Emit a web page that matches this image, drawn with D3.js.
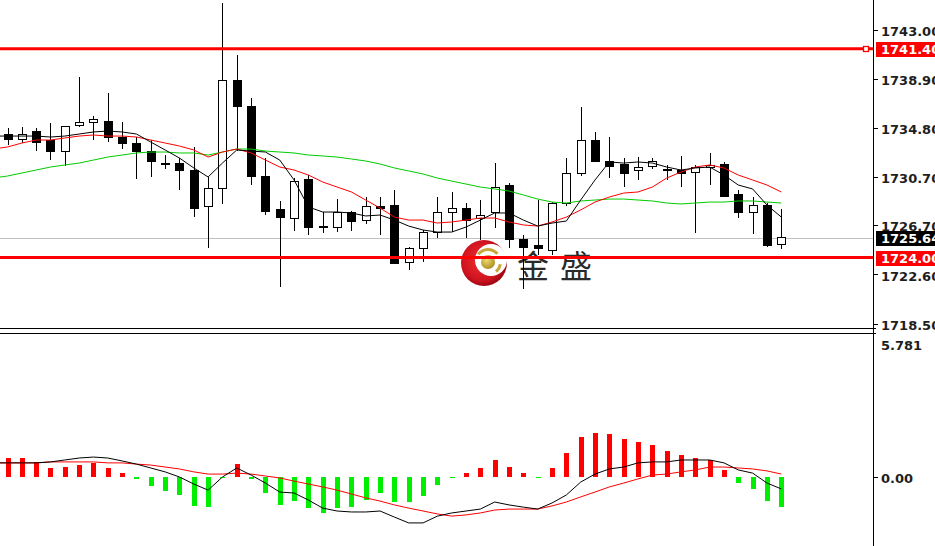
<!DOCTYPE html>
<html><head><meta charset="utf-8">
<script src="https://cdn.jsdelivr.net/npm/d3@7"></script>
<style>body{margin:0;background:#fff;overflow:hidden}svg{display:block}</style>
</head><body>
<svg id="c" width="935" height="546"></svg>
<script>
// ---------- DATA ----------
const opens = [1734.29,1733.87,1734.46,1733.79,1732.87,1734.96,1735.21,1735.37,1733.96,1733.46,
 1732.87,1731.87,1731.87,1731.21,1728.21,1729.71,1738.79,1736.62,1730.71,1727.96,
 1727.29,1730.46,1726.62,1726.54,1727.71,1727.12,1728.21,1728.37,1723.62,1724.71,
 1726.12,1727.79,1728.12,1727.29,1727.71,1730.04,1725.46,1725.04,1724.62,1728.54,
 1730.96,1733.79,1732.04,1731.71,1731.21,1731.62,1731.37,1731.29,1731.12,1731.54,
 1731.71,1729.21,1727.71,1728.37,1725.12];
const highs = [1734.79,1734.88,1734.79,1735.21,1734.88,1739.04,1735.79,1737.71,1735.29,1734.04,
 1733.79,1732.54,1732.29,1733.21,1730.71,1745.21,1740.87,1737.29,1732.29,1728.71,
 1730.62,1730.87,1727.79,1728.87,1727.87,1729.04,1729.04,1729.62,1724.87,1726.29,
 1729.04,1729.46,1728.54,1728.79,1731.87,1730.21,1725.87,1728.79,1728.62,1732.29,
 1736.54,1734.46,1734.04,1732.29,1732.37,1732.29,1731.71,1732.46,1731.71,1732.71,
 1731.96,1729.62,1729.04,1728.54,1728.04];
const lows = [1733.37,1733.54,1732.87,1732.12,1731.62,1734.88,1733.79,1733.62,1733.04,1730.54,
 1730.71,1731.37,1729.62,1727.37,1724.79,1728.46,1732.87,1730.04,1727.54,1721.54,
 1726.21,1725.87,1726.04,1726.12,1726.21,1726.79,1725.87,1723.46,1722.96,1723.62,
 1725.62,1726.12,1725.62,1725.46,1726.46,1724.79,1721.37,1724.21,1724.21,1728.29,
 1730.79,1731.96,1730.62,1729.87,1730.46,1731.37,1730.46,1729.87,1726.04,1730.04,
 1729.04,1727.29,1725.96,1724.87,1724.71];
const closes = [1733.87,1734.29,1733.62,1732.87,1734.88,1735.21,1735.54,1733.96,1733.54,1732.87,
 1731.96,1731.83,1731.29,1728.12,1729.79,1738.79,1736.62,1730.71,1727.87,1727.37,
 1730.37,1726.54,1726.46,1727.71,1727.04,1728.21,1728.12,1723.54,1724.71,1726.12,
 1727.79,1728.12,1727.12,1727.54,1729.87,1725.46,1724.87,1724.79,1728.54,1730.96,
 1733.79,1732.04,1731.62,1731.04,1731.46,1731.96,1731.29,1731.04,1731.46,1731.67,
 1729.12,1727.71,1728.37,1725.04,1725.64];

// moving averages, first value belongs to the bar just left of the window
const maFast = [1734.12,1734.12,1734.12,1734.12,1734.04,1734.12,1734.29,1734.46,1734.54,1734.46,
 1734.29,1733.62,1732.96,1732.29,1731.46,1730.71,1731.87,1732.96,1732.87,1732.79,
 1732.12,1730.46,1728.21,1727.79,1727.79,1727.71,1727.46,1727.54,1727.12,1726.62,
 1726.29,1726.12,1726.12,1726.54,1727.12,1727.71,1727.71,1727.12,1726.62,1726.87,
 1727.04,1728.79,1730.46,1731.96,1731.87,1731.96,1731.87,1731.54,1731.29,1731.46,
 1731.54,1730.87,1730.04,1729.71,1728.37,1727.37];
const maMid = [1733.04,1733.21,1733.54,1733.79,1733.79,1733.96,1734.12,1734.21,1734.12,1734.12,
 1734.04,1733.79,1733.54,1733.29,1732.96,1732.37,1732.79,1733.04,1732.71,1732.12,
 1731.54,1731.29,1730.87,1730.29,1729.87,1729.46,1728.79,1728.12,1727.37,1727.12,
 1727.12,1726.87,1726.96,1727.12,1727.29,1727.29,1726.96,1726.71,1726.62,1726.96,
 1727.37,1727.96,1728.62,1729.04,1729.37,1729.46,1729.87,1730.62,1731.12,1731.54,
 1731.71,1731.46,1730.87,1730.46,1730.04,1729.46];
const maSlow = [1730.62,1730.79,1731.04,1731.29,1731.54,1731.71,1731.87,1732.12,1732.37,1732.54,
 1732.71,1732.79,1732.79,1732.71,1732.71,1732.54,1732.79,1733.04,1733.04,1732.87,
 1732.79,1732.71,1732.54,1732.46,1732.37,1732.21,1732.04,1731.79,1731.46,1731.21,
 1730.96,1730.62,1730.37,1730.12,1729.87,1729.71,1729.54,1729.21,1728.87,1728.62,
 1728.54,1728.71,1728.79,1728.87,1728.87,1728.79,1728.71,1728.54,1728.46,1728.54,
 1728.62,1728.62,1728.71,1728.71,1728.62,1728.54];

const macdHist = [0.76,0.76,0.60,0.35,0.39,0.47,0.56,0.35,0.14,-0.10,
 -0.39,-0.60,-0.76,-1.21,-1.26,-0.05,0.51,-0.10,-0.68,-1.17,
 -1.01,-1.30,-1.50,-1.30,-1.26,-0.97,-0.68,-1.05,-1.05,-0.80,
 -0.35,-0.03,0.14,0.35,0.68,0.39,0.14,-0.06,0.35,0.97,
 1.63,1.79,1.75,1.54,1.42,1.30,1.05,0.88,0.76,0.68,
 0.27,-0.27,-0.51,-1.01,-1.26];
const macdMain = [0.56,0.56,0.56,0.56,0.60,0.68,0.76,0.80,0.76,0.64,
 0.51,0.35,0.19,-0.02,-0.31,-0.56,-0.02,0.35,0.06,-0.27,
 -0.64,-0.68,-0.97,-1.30,-1.42,-1.46,-1.46,-1.42,-1.67,-1.91,
 -1.91,-1.63,-1.50,-1.42,-1.34,-1.05,-1.17,-1.26,-1.34,-1.09,
 -0.76,-0.23,0.10,0.31,0.39,0.56,0.60,0.60,0.68,0.68,
 0.68,0.56,0.27,0.14,-0.27,-0.51];
const macdSignal = [0.56,0.56,0.56,0.56,0.60,0.60,0.60,0.60,0.56,0.56,
 0.51,0.47,0.39,0.31,0.19,0.10,0.10,0.14,0.10,0.02,
 -0.06,-0.19,-0.31,-0.43,-0.56,-0.72,-0.88,-1.01,-1.17,-1.30,
 -1.42,-1.54,-1.63,-1.58,-1.50,-1.38,-1.34,-1.34,-1.34,-1.21,
 -1.05,-0.84,-0.64,-0.43,-0.27,-0.10,0.06,0.10,0.19,0.27,
 0.39,0.39,0.35,0.31,0.23,0.10];

const priceTicks = [1743.00,1738.90,1734.80,1730.70,1726.70,1722.60,1718.50];
const priceTickLabels = ["1743.00","1738.90","1734.80","1730.70","1726.70","1722.60","1718.50"];
const levelLines = [1741.40,1724.00];
const levelLabels = ["1741.40","1724.00"];
const lastPrice = 1725.64;
const lastPriceLabel = "1725.64";
const macdTicks = [5.781,0];
const macdTickLabels = ["5.781","0.00"];
const logoText = ["金","盛"];

// ---------- CHART ----------
const svg = d3.select("#c");
const AX = 873.5;            // price axis x
const MAIN_BOTTOM = 328.5, SUB_TOP = 333.5;
const x = d3.scaleLinear().domain([0,54]).range([7.5,781.3]);
const cx = i => Math.round(x(i)) + 0.5;
const y = d3.scaleLinear().domain([1718.5,1743]).range([323.5,29.5]);
const ym = d3.scaleLinear().domain([0,5.781]).range([476.5,336]);

const defs = svg.append("defs");
defs.append("clipPath").attr("id","cm").append("rect").attr("x",0).attr("y",0).attr("width",873).attr("height",328);
defs.append("clipPath").attr("id","cs").append("rect").attr("x",0).attr("y",334).attr("width",873).attr("height",212);
const rg = defs.append("radialGradient").attr("id","lr").attr("cx","45%").attr("cy","45%").attr("r","60%");
rg.append("stop").attr("offset","0%").attr("stop-color","#f03030");
rg.append("stop").attr("offset","70%").attr("stop-color","#d01420");
rg.append("stop").attr("offset","100%").attr("stop-color","#900010");
const gg = defs.append("radialGradient").attr("id","lg").attr("cx","40%").attr("cy","35%").attr("r","70%");
gg.append("stop").attr("offset","0%").attr("stop-color","#f0dc70");
gg.append("stop").attr("offset","100%").attr("stop-color","#a88a20");

const main = svg.append("g").attr("clip-path","url(#cm)");

// last price gray line
main.append("line").attr("x1",0).attr("x2",AX).attr("y1",Math.round(y(lastPrice))+0.5).attr("y2",Math.round(y(lastPrice))+0.5)
  .attr("stroke","#c0c0c0").attr("stroke-width",1);

// watermark logo
const logo = main.append("g");
logo.append("circle").attr("cx",484).attr("cy",263).attr("r",23).attr("fill","url(#lr)");
logo.append("circle").attr("cx",491).attr("cy",260).attr("r",16).attr("fill","#fff");
logo.append("circle").attr("cx",488).attr("cy",262).attr("r",7).attr("fill","url(#lg)");
const arc = d3.arc().innerRadius(11).outerRadius(14);
logo.append("path").attr("transform","translate(488,262)").attr("fill","#c8a838")
  .attr("d",arc({startAngle:-0.9,endAngle:0.85}));
logo.append("path").attr("transform","translate(488,262)").attr("fill","#c8a838")
  .attr("d",arc({startAngle:1.75,endAngle:2.45}));
logo.selectAll("text.lt").data(logoText).join("text").attr("class","lt")
  .attr("x",(d,i)=>517+i*43).attr("y",278)
  .attr("font-family","'Noto Sans CJK SC','Noto Sans CJK TC',sans-serif").attr("font-size",32)
  .attr("fill","#2a2a2a").text(d=>d);

// candles
const idx = d3.range(opens.length);
const cg = main.append("g").attr("shape-rendering","crispEdges");
cg.selectAll("line.w").data(idx).join("line").attr("class","w")
  .attr("x1",cx).attr("x2",cx).attr("y1",i=>y(highs[i])).attr("y2",i=>y(lows[i]))
  .attr("stroke","#000").attr("stroke-width",1);
cg.selectAll("rect.b").data(idx).join("rect").attr("class","b")
  .attr("x",i=>cx(i)-4).attr("width",8)
  .attr("y",i=>y(Math.max(opens[i],closes[i])))
  .attr("height",i=>Math.max(1,Math.abs(y(opens[i])-y(closes[i]))))
  .attr("fill",i=>closes[i]>opens[i]?"#fff":"#000")
  .attr("stroke","#000").attr("stroke-width",1);

// level lines
main.selectAll("line.lv").data(levelLines).join("line").attr("class","lv")
  .attr("x1",0).attr("x2",AX).attr("y1",d=>y(d)).attr("y2",d=>y(d))
  .attr("stroke","#ff0000").attr("stroke-width",3);

// moving averages
const maLine = d3.line().x((d,i)=>x(i-1)).y(d=>y(d));
[[maSlow,"#00cc00"],[maMid,"#ff0000"],[maFast,"#000000"]].forEach(([arr,col])=>{
  main.append("path").attr("d",maLine(arr)).attr("fill","none").attr("stroke",col).attr("stroke-width",1);
});

// marker on top level line
svg.append("rect").attr("x",863.5).attr("y",Math.round(y(levelLines[0]))-2.5).attr("width",5).attr("height",5)
  .attr("fill","#fff").attr("stroke","#ff0000").attr("stroke-width",1.3);

// MACD panel
const sub = svg.append("g").attr("clip-path","url(#cs)");
sub.append("g").attr("shape-rendering","crispEdges").selectAll("rect").data(idx).join("rect")
  .attr("x",i=>Math.round(x(i))-2).attr("width",5)
  .attr("y",i=>Math.min(ym(0),ym(macdHist[i])))
  .attr("height",i=>Math.max(1,Math.abs(ym(macdHist[i])-ym(0))))
  .attr("fill",i=>macdHist[i]>=0?"#ff0000":"#00ee00");
const mLine = d3.line().x((d,i)=>x(i-1)).y(d=>ym(d));
sub.append("path").attr("d",mLine(macdSignal)).attr("fill","none").attr("stroke","#ff0000").attr("stroke-width",1);
sub.append("path").attr("d",mLine(macdMain)).attr("fill","none").attr("stroke","#000").attr("stroke-width",1);

// borders
const bd = svg.append("g").attr("shape-rendering","crispEdges").attr("stroke","#000").attr("stroke-width",1);
bd.append("line").attr("x1",0).attr("x2",AX+2).attr("y1",MAIN_BOTTOM).attr("y2",MAIN_BOTTOM);
bd.append("line").attr("x1",0).attr("x2",AX+2).attr("y1",SUB_TOP).attr("y2",SUB_TOP);
bd.append("line").attr("x1",AX).attr("x2",AX).attr("y1",0).attr("y2",546);

// axes
const FONT = "'DejaVu Sans',sans-serif";
const FS = 13;
const pa = svg.append("g").attr("transform",`translate(${AX},0)`)
  .call(d3.axisRight(y).tickValues(priceTicks).tickFormat((d,i)=>priceTickLabels[i]).tickSize(4).tickPadding(3.5));
pa.select(".domain").remove();
pa.selectAll("text").attr("font-family",FONT).attr("font-size",FS).attr("font-weight","bold").attr("fill","#1e1e1e").attr("dy","0.45em");
pa.selectAll("line").attr("stroke","#000").attr("shape-rendering","crispEdges");

const sa = svg.append("g").attr("transform",`translate(${AX},0)`)
  .call(d3.axisRight(ym).tickValues(macdTicks).tickFormat((d,i)=>macdTickLabels[i]).tickSize(4).tickPadding(3.5));
sa.select(".domain").remove();
sa.selectAll("text").attr("font-family",FONT).attr("font-size",FS).attr("font-weight","bold").attr("fill","#1e1e1e").attr("dy","0.45em");
sa.selectAll("line").attr("stroke","#000").attr("shape-rendering","crispEdges");
sa.selectAll(".tick").filter(d=>d===macdTicks[0]).select("line").remove();
sa.selectAll(".tick").filter(d=>d===macdTicks[0]).select("text").attr("dy","1.0em");

// value boxes
const boxes = [
  {v:levelLines[0], t:levelLabels[0], bg:"#ff0000"},
  {v:lastPrice, t:lastPriceLabel, bg:"#000000"},
  {v:levelLines[1], t:levelLabels[1], bg:"#ff0000"}
];
const bx = svg.append("g");
boxes.forEach(b=>{
  const yy = Math.round(y(b.v));
  bx.append("rect").attr("x",876).attr("y",yy-7).attr("width",60).attr("height",15).attr("fill",b.bg);
  bx.append("text").attr("x",881).attr("y",yy).attr("dy","0.42em").attr("font-family",FONT)
    .attr("font-size",FS).attr("font-weight","bold").attr("fill","#fff").text(b.t);
});
</script>
</body></html>
